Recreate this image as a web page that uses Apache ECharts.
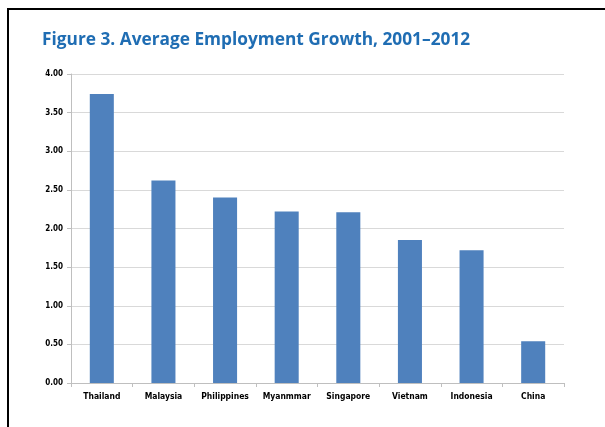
<!DOCTYPE html>
<html><head><meta charset="utf-8">
<script src="https://cdn.jsdelivr.net/npm/echarts@6/dist/echarts.min.js"></script>
<style>html,body{margin:0;padding:0;background:#fff}#c{width:605px;height:427px}</style>
</head><body><div id="c"></div>
<script>
const categories = ['Thailand','Malaysia','Philippines','Myanmmar','Singapore','Vietnam','Indonesia','China'];
const growth = [3.74, 2.62, 2.40, 2.22, 2.21, 1.85, 1.72, 0.54];
const yTicks = {min: 0, max: 4, interval: 0.5};
const titleText = 'Figure 3. Average Employment Growth, 2001\u20132012';

const chart = echarts.init(document.getElementById('c'), null, {renderer: 'canvas'});
chart.setOption({
  animation: false,
  backgroundColor: '#fff',
  title: {
    text: titleText, left: 37, top: 27,
    textStyle: {color: '#1f6db3', fontFamily: 'Open Sans', fontWeight: 'bold', fontSize: 17.3}
  },
  graphic: [
    {type: 'rect', shape: {x: 7, y: 8, width: 598, height: 2}, style: {fill: '#000'}},
    {type: 'rect', shape: {x: 7, y: 8, width: 2, height: 419}, style: {fill: '#000'}}
  ],
  grid: {left: 71, right: 41, top: 74, bottom: 44, containLabel: false},
  xAxis: {
    type: 'category', data: categories,
    axisLine: {lineStyle: {color: '#bfbfbf', width: 1}},
    axisTick: {show: true, alignWithLabel: false, length: 4, lineStyle: {color: '#bfbfbf'}},
    axisLabel: {color: '#000', fontFamily: 'DejaVu Sans Condensed', fontWeight: 'bold', fontSize: 8.5, margin: 9, interval: 0}
  },
  yAxis: {
    type: 'value', min: yTicks.min, max: yTicks.max, interval: yTicks.interval,
    axisLine: {show: true, lineStyle: {color: '#bfbfbf', width: 1}},
    axisTick: {show: true, length: 4, lineStyle: {color: '#bfbfbf'}},
    splitLine: {lineStyle: {color: '#d9d9d9', width: 1}},
    axisLabel: {color: '#000', fontFamily: 'DejaVu Sans Condensed', fontWeight: 'bold', fontSize: 8, margin: 8,
      formatter: v => v.toFixed(2)}
  },
  series: [{
    type: 'bar', data: growth, barWidth: '39%',
    itemStyle: {color: '#4f81bd'}
  }]
});
</script></body></html>
